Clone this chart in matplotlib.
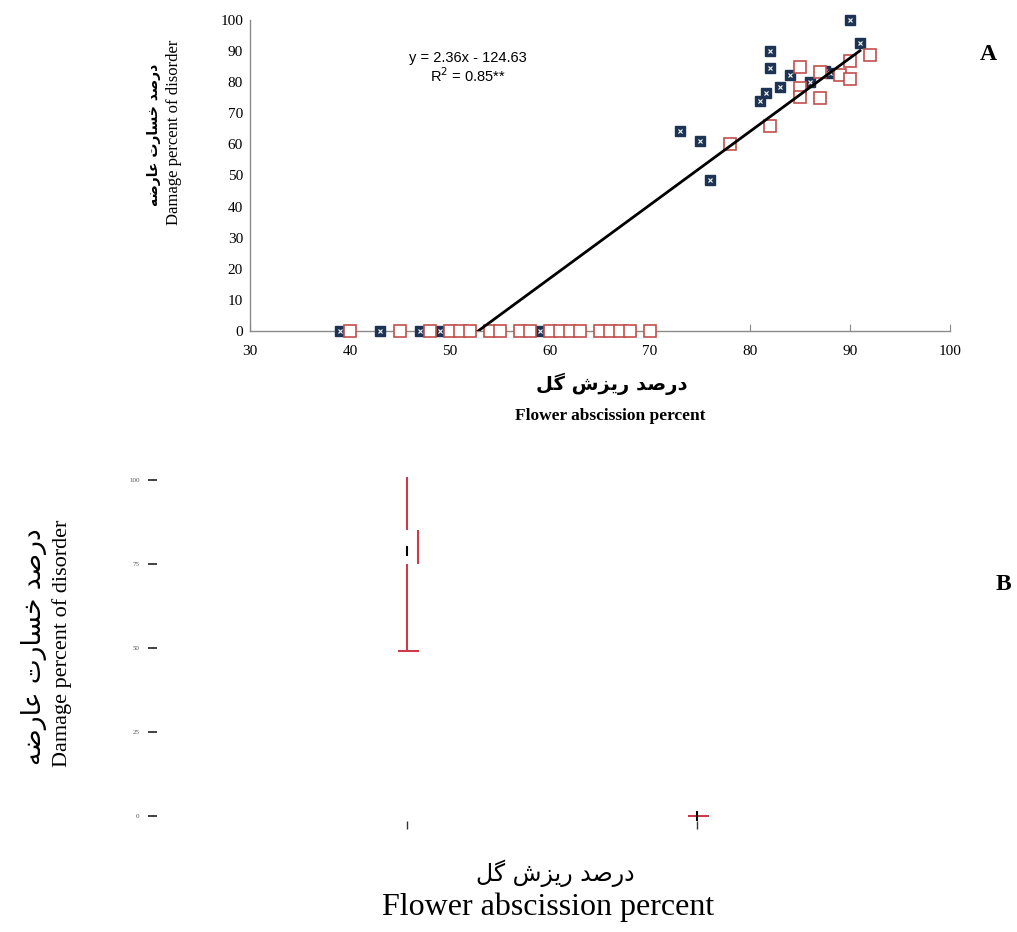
import matplotlib
matplotlib.use('Agg')
import matplotlib.pyplot as plt

plt.rcParams['font.family'] = ['Liberation Serif', 'DejaVu Sans']

# panel A data
blue_x = [90, 91, 82, 82, 84, 83, 81.6, 81, 86, 87.5, 88, 73, 75, 76,
          39, 43, 47, 49, 59]
blue_y = [100, 92.5, 90, 84.5, 82.3, 78.5, 76.5, 74, 80, 83.5, 83, 64.3, 61, 48.5,
          0, 0, 0, 0, 0]
red_x = [92, 85, 85, 85, 87, 87, 89, 90, 90, 82, 78,
         40, 45, 48, 50, 51, 52, 54, 55, 57, 58, 60, 61, 62, 63, 65, 66, 67, 68, 70]
red_y = [88.7, 84.8, 78, 75.3, 83.4, 74.8, 82.3, 86.9, 81, 66, 60,
         0, 0, 0, 0, 0, 0, 0, 0, 0, 0, 0, 0, 0, 0, 0, 0, 0, 0, 0]
slope, intercept = 2.36, -124.63
fit_end = 91

# panel B data
groups = [1, 2]
whisk_lo = [49, 0]
q1 = [75, 0]
med = [79, 0]
q3 = [85, 0]
whisk_hi = [101, 0]

W, H = 1017, 932


def fx(p):
    return p / W


def fy(p):
    return 1 - p / H


# simple persian shaping (presentation forms + rtl order)
FORMS = {
    'ا': ('\uFE8D', '\uFE8E', '\uFE8D', '\uFE8E'),
    'ت': ('\uFE95', '\uFE96', '\uFE97', '\uFE98'),
    'خ': ('\uFEA5', '\uFEA6', '\uFEA7', '\uFEA8'),
    'د': ('\uFEA9', '\uFEAA', '\uFEA9', '\uFEAA'),
    'ر': ('\uFEAD', '\uFEAE', '\uFEAD', '\uFEAE'),
    'ز': ('\uFEAF', '\uFEB0', '\uFEAF', '\uFEB0'),
    'س': ('\uFEB1', '\uFEB2', '\uFEB3', '\uFEB4'),
    'ش': ('\uFEB5', '\uFEB6', '\uFEB7', '\uFEB8'),
    'ص': ('\uFEB9', '\uFEBA', '\uFEBB', '\uFEBC'),
    'ض': ('\uFEBD', '\uFEBE', '\uFEBF', '\uFEC0'),
    'ع': ('\uFEC9', '\uFECA', '\uFECB', '\uFECC'),
    'ل': ('\uFEDD', '\uFEDE', '\uFEDF', '\uFEE0'),
    'ه': ('\uFEE9', '\uFEEA', '\uFEEB', '\uFEEC'),
    'ی': ('\uFBFC', '\uFBFD', '\uFBFE', '\uFBFF'),
    'گ': ('\uFB92', '\uFB93', '\uFB94', '\uFB95'),
}
RIGHT_ONLY = 'ادذرزژو'


def fa(s):
    out = []
    for i, ch in enumerate(s):
        if ch not in FORMS:
            out.append(ch)
            continue
        prev = s[i - 1] if i > 0 else ''
        nxt = s[i + 1] if i + 1 < len(s) else ''
        jp = prev in FORMS and prev not in RIGHT_ONLY
        jn = nxt in FORMS and ch not in RIGHT_ONLY
        iso, fin, ini, mid = FORMS[ch]
        if jp and jn:
            out.append(mid)
        elif jp:
            out.append(fin)
        elif jn:
            out.append(ini)
        else:
            out.append(iso)
    return ''.join(reversed(out))


ylab_fa = fa('درصد خسارت عارضه')
xlab_fa = fa('درصد ریزش گل')

fig = plt.figure(figsize=(W / 100, H / 100), dpi=100)

# ---------------- panel A
ax = fig.add_axes([fx(250), fy(331), 700 / W, 311 / H])
ax.set_xlim(30, 100)
ax.set_ylim(0, 100)
for s in ['top', 'right']:
    ax.spines[s].set_visible(False)
for s in ['left', 'bottom']:
    ax.spines[s].set_color('#8a8a8a')
    ax.spines[s].set_linewidth(1)
ax.set_xticks(range(30, 101, 10))
ax.set_yticks(range(0, 101, 10))
ax.tick_params(axis='x', direction='in', length=5, color='#8a8a8a', pad=10, labelsize=11)
ax.tick_params(axis='y', length=0, pad=5, labelsize=11)

ax.plot(blue_x, blue_y, 's', ms=6.5, color='#1d3354', mec='#1d3354', clip_on=False, zorder=3)
ax.plot(blue_x, blue_y, 'x', ms=3.5, mew=0.8, color='white', clip_on=False, zorder=3)
ax.plot(red_x, red_y, 's', ms=8.5, mfc='white', mec='#c0504d', mew=1.2, clip_on=False, zorder=4)

x0 = -intercept / slope
ax.plot([x0, fit_end], [slope * x0 + intercept, slope * fit_end + intercept],
        color='black', lw=2, zorder=5)

fig.text(fx(468), fy(58), 'y = %.2fx - %.2f' % (slope, -intercept), family='Liberation Sans',
         fontsize=10.5, ha='center', va='center')
fig.text(fx(468), fy(76), 'R$^2$ = 0.85**', family='Liberation Sans',
         fontsize=10.5, ha='center', va='center')

fig.text(fx(154), fy(135), ylab_fa, rotation=90, fontsize=10, fontweight='bold',
         ha='center', va='center', family=['DejaVu Sans'])
fig.text(fx(174), fy(132), 'Damage percent of disorder', rotation=90, fontsize=12,
         ha='center', va='center')
fig.text(fx(612), fy(384), xlab_fa, fontsize=14, fontweight='bold',
         ha='center', va='center', family=['DejaVu Sans'])
fig.text(fx(610), fy(416), 'Flower abscission percent', fontsize=12.5, fontweight='bold',
         ha='center', va='center')
fig.text(fx(988), fy(55), 'A', fontsize=17, fontweight='bold', ha='center', va='center')

# ---------------- panel B
bx = fig.add_axes([fx(157), fy(821), 790 / W, 351 / H])
bx.set_xlim(0.138, 2.862)
bx.set_ylim(-1.5, 103)
for s in bx.spines.values():
    s.set_visible(False)
bx.set_yticks([0, 25, 50, 75, 100])
bx.tick_params(axis='y', length=6.5, width=1.3, color='#333333', pad=6,
               labelsize=5, labelcolor='#555555')
bx.set_xticks(groups)
bx.set_xticklabels(['', ''])
bx.tick_params(axis='x', length=6, width=1, color='#333333')

red = '#cc3b4a'
bx.vlines(groups, q3, whisk_hi, color=red, lw=1.5)
bx.vlines(groups, whisk_lo, q1, color=red, lw=1.5)
bx.vlines([g + 0.038 for g in groups], q1, q3, color=red, lw=1.5)
bx.hlines(whisk_lo, [g - 0.03 for g in groups], [g + 0.04 for g in groups], color=red, lw=1.5)
bx.vlines(groups, [m - 1.5 for m in med], [m + 1.5 for m in med], color='black', lw=1.5, zorder=4)

fig.text(fx(34), fy(647), ylab_fa, rotation=90, fontsize=19,
         ha='center', va='center', family=['DejaVu Sans'])
fig.text(fx(62), fy(643), 'Damage percent of disorder', rotation=90, fontsize=16,
         ha='center', va='center')
fig.text(fx(555), fy(873), xlab_fa, fontsize=17,
         ha='center', va='center', family=['DejaVu Sans'])
fig.text(fx(548), fy(907), 'Flower abscission percent', fontsize=23,
         ha='center', va='center')
fig.text(fx(1003), fy(585), 'B', fontsize=17, fontweight='bold', ha='center', va='center')

fig.savefig('out.png', dpi=100)
